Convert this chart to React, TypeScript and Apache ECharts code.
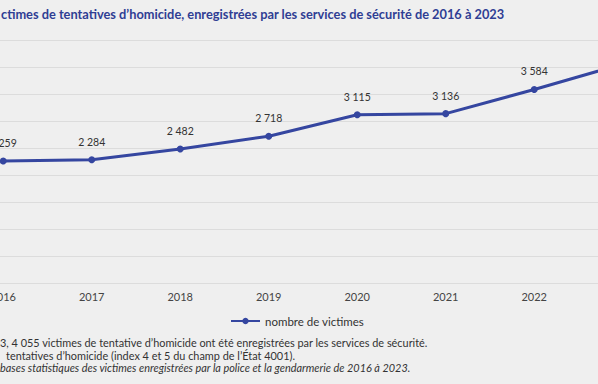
import React, { useEffect, useRef } from "react";
import * as echarts from "echarts";

const years = ["2016", "2017", "2018", "2019", "2020", "2021", "2022", "2023"];
const victims = [2259, 2284, 2482, 2718, 3115, 3136, 3584, 4055];
const titleText = "ctimes de tentatives d’homicide, enregistrées par les services de sécurité de 2016 à 2023";
const note1 = "3, 4 055 victimes de tentative d’homicide ont été enregistrées par les services de sécurité.";
const note2 = "tentatives d’homicide (index 4 et 5 du champ de l’État 4001).";
const note3 = "bases statistiques des victimes enregistrées par la police et la gendarmerie de 2016 à 2023.";
const legendName = "nombre de victimes";

const FONT = "Lato, 'Noto Sans', sans-serif";
const OFF = 50; // chart canvas is shifted left by this many px (the reference is cropped)
const CHART_W = 730;

function fmt(v: number): string {
  return String(v).replace(/\B(?=(\d{3})+(?!\d))/g, " ");
}

export default function App() {
  const ref = useRef<HTMLDivElement>(null);
  useEffect(() => {
    if (!ref.current) return;
    const chart = echarts.init(ref.current, undefined, { renderer: "svg" });
    chart.setOption({
      animation: false,
      backgroundColor: "#efefef",
      textStyle: { fontFamily: FONT },
      grid: { left: OFF - 41, right: CHART_W - (OFF - 41) - 708, top: 40, bottom: 101, containLabel: false },
      legend: {
        data: [legendName],
        left: OFF + 225,
        top: 310,
        itemWidth: 29,
        itemHeight: 8,
        itemGap: 2,
        textStyle: { color: "#333", fontSize: 11.5, fontFamily: FONT },
      },
      xAxis: {
        type: "category",
        data: years,
        boundaryGap: true,
        axisLine: { show: true, lineStyle: { color: "#dcdcdc" } },
        axisTick: { show: false },
        axisLabel: { color: "#444", fontSize: 11, margin: 8, fontFamily: FONT },
      },
      yAxis: {
        type: "value",
        min: 0,
        max: 4500,
        interval: 500,
        axisLabel: { show: false },
        axisLine: { show: false },
        axisTick: { show: false },
        splitLine: { lineStyle: { color: "#dcdcdc", width: 1 } },
      },
      series: [
        {
          name: legendName,
          type: "line",
          data: victims,
          symbol: "circle",
          symbolSize: 7,
          lineStyle: { color: "#3546a0", width: 3 },
          itemStyle: { color: "#3546a0" },
          label: {
            show: true,
            position: "top",
            distance: 9,
            color: "#333",
            fontSize: 10.5,
            fontFamily: FONT,
            formatter: (p: any) => fmt(p.value),
          },
        },
      ],
      graphic: [
        {
          type: "text",
          left: OFF + 1,
          top: 7,
          style: {
            text: titleText,
            fill: "#2f3e94",
            font: `bold 12.8px ${FONT}`,
          },
        },
        {
          type: "text",
          left: OFF,
          top: 337,
          style: { text: note1, fill: "#333", font: `10.9px ${FONT}` },
        },
        {
          type: "text",
          left: OFF + 6,
          top: 350,
          style: { text: note2, fill: "#333", font: `10.9px ${FONT}` },
        },
        {
          type: "text",
          left: OFF,
          top: 362,
          style: { text: note3, fill: "#333", font: `italic 10.9px ${FONT}` },
        },
      ],
    });
    return () => chart.dispose();
  }, []);
  return (
    <div
      style={{ position: "fixed", left: 0, top: 0, width: 598, height: 384, overflow: "hidden", background: "#efefef" }}
    >
      <div
        ref={ref}
        style={{ position: "absolute", left: -OFF, top: 0, width: CHART_W, height: 384 }}
      />
    </div>
  );
}
